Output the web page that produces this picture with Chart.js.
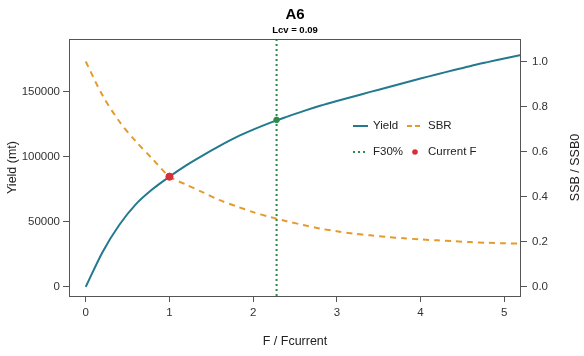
<!DOCTYPE html>
<html>
<head>
<meta charset="utf-8">
<script src="https://cdn.jsdelivr.net/npm/chart.js@4.4.1/dist/chart.umd.min.js"></script>
<style>
  html, body { margin: 0; padding: 0; background: #fff; }
  canvas { display: block; }
</style>
</head>
<body>
<canvas id="chart" width="584" height="356"></canvas>
<script>
// values
const fValues = [0, 0.2, 0.4, 0.6, 0.8, 1.0, 1.2, 1.4, 1.6, 1.8, 2.0, 2.2, 2.4, 2.6,
  2.8, 3.0, 3.2, 3.4, 3.6, 3.8, 4.0, 4.2, 4.4, 4.6, 4.8, 5.0, 5.2];
const yieldValues = [0, 26700, 47600, 63700, 75300, 84800, 93500, 101200, 108500, 115200,
  121000, 126200, 130800, 135200, 139300, 143000, 146500, 150000, 153400, 156900,
  160300, 163600, 166800, 170000, 172900, 175700, 178400];
const sbrValues = [1.0, 0.85, 0.735, 0.645, 0.567, 0.49, 0.454, 0.42, 0.385, 0.358,
  0.332, 0.311, 0.292, 0.275, 0.259, 0.247, 0.237, 0.229, 0.222, 0.216, 0.211,
  0.207, 0.203, 0.199, 0.196, 0.194, 0.192];
const f30 = 2.28;
const f30Yield = 128500;
const currentF = 1.0;
const currentYield = 84800;

const xTicks = [0, 1, 2, 3, 4, 5];
const yieldTicks = [0, 50000, 100000, 150000];
const sbrTicks = [0, 0.2, 0.4, 0.6, 0.8, 1.0];

const xRange = [-0.2, 5.2];
const yieldRange = [-7000, 190700];
const sbrRange = [-0.04, 1.10];

const FONT = '"Liberation Sans", Arial, Helvetica, sans-serif';
const TEAL = "#23798e";
const ORANGE = "#e59b2c";
const GREEN = "#2b8a46";
const RED = "#d7303a";
const AXIS = "#555";

function setTicks(list) {
  return scale => { scale.ticks = list.map(v => ({ value: v })); };
}

const decorations = {
  id: "decorations",
  afterDraw(chart) {
    const { ctx, chartArea: a } = chart;
    ctx.save();
    ctx.strokeStyle = AXIS;
    ctx.lineWidth = 1;
    ctx.strokeRect(a.left + 0.5, a.top + 0.5, a.right - a.left - 1, a.bottom - a.top);

    ctx.fillStyle = "#000";
    ctx.textAlign = "center";
    ctx.textBaseline = "middle";
    const cx = (a.left + a.right) / 2;
    ctx.font = "bold 15px " + FONT;
    ctx.fillText("A6", cx, 15);
    ctx.font = "bold 9.5px " + FONT;
    ctx.fillText("Lcv = 0.09", cx, 30.5);

    ctx.fillStyle = "#222";
    ctx.font = "12.5px " + FONT;
    ctx.fillText("F / Fcurrent", cx, 342);
    const cy = (a.top + a.bottom) / 2;
    ctx.save();
    ctx.translate(13, cy);
    ctx.rotate(-Math.PI / 2);
    ctx.fillText("Yield (mt)", 0, 0);
    ctx.restore();
    ctx.save();
    ctx.translate(576, cy);
    ctx.rotate(-Math.PI / 2);
    ctx.fillText("SSB / SSB0", 0, 0);
    ctx.restore();

    // legend
    ctx.font = "11.5px " + FONT;
    ctx.textAlign = "left";
    ctx.lineWidth = 2;
    ctx.strokeStyle = TEAL;
    ctx.beginPath(); ctx.moveTo(353, 126); ctx.lineTo(368, 126); ctx.stroke();
    ctx.fillText("Yield", 373, 126);
    ctx.strokeStyle = ORANGE;
    ctx.setLineDash([5, 3]);
    ctx.beginPath(); ctx.moveTo(407, 126); ctx.lineTo(423, 126); ctx.stroke();
    ctx.fillText("SBR", 428, 126);
    ctx.strokeStyle = GREEN;
    ctx.setLineDash([2, 3]);
    ctx.beginPath(); ctx.moveTo(353, 152); ctx.lineTo(368, 152); ctx.stroke();
    ctx.setLineDash([]);
    ctx.fillText("F30%", 373, 152);
    ctx.fillStyle = RED;
    ctx.beginPath(); ctx.arc(415, 152, 2.8, 0, Math.PI * 2); ctx.fill();
    ctx.fillStyle = "#222";
    ctx.fillText("Current F", 428, 152);
    ctx.restore();
  }
};

const tickFont = { family: FONT, size: 11.5 };

new Chart(document.getElementById("chart"), {
  type: "line",
  data: {
    datasets: [
      {
        label: "Yield",
        data: fValues.map((f, i) => ({ x: f, y: yieldValues[i] })),
        borderColor: TEAL,
        borderWidth: 2,
        pointRadius: 0,
        tension: 0.3,
        order: 4,
        yAxisID: "y"
      },
      {
        label: "SBR",
        data: fValues.map((f, i) => ({ x: f, y: sbrValues[i] })),
        borderColor: ORANGE,
        borderWidth: 2,
        borderDash: [6, 5],
        pointRadius: 0,
        tension: 0.3,
        order: 3,
        yAxisID: "y1"
      },
      {
        label: "F30%",
        data: [{ x: f30, y: yieldRange[0] }, { x: f30, y: yieldRange[1] }],
        borderColor: GREEN,
        borderWidth: 2,
        borderDash: [2, 3],
        pointRadius: 0,
        order: 2,
        yAxisID: "y"
      },
      {
        label: "F30% point",
        data: [{ x: f30, y: f30Yield }],
        showLine: false,
        pointRadius: 2.8,
        pointBackgroundColor: GREEN,
        pointBorderColor: GREEN,
        order: 1,
        yAxisID: "y"
      },
      {
        label: "Current F",
        data: [{ x: currentF, y: currentYield }],
        showLine: false,
        pointRadius: 3.6,
        pointBackgroundColor: RED,
        pointBorderColor: RED,
        order: 0,
        yAxisID: "y"
      }
    ]
  },
  options: {
    responsive: false,
    animation: false,
    devicePixelRatio: 1,
    layout: { padding: { top: 39, left: 0, right: 0, bottom: 0 } },
    plugins: { legend: { display: false }, tooltip: { enabled: false }, title: { display: false } },
    scales: {
      x: {
        type: "linear",
        min: xRange[0],
        max: xRange[1],
        afterBuildTicks: setTicks(xTicks),
        afterFit: s => { s.height = 60; },
        border: { display: false },
        grid: { drawOnChartArea: false, drawTicks: true, tickLength: 6, color: AXIS },
        ticks: { font: tickFont, color: "#333", padding: 4, callback: v => String(v), maxRotation: 0 }
      },
      y: {
        position: "left",
        min: yieldRange[0],
        max: yieldRange[1],
        afterBuildTicks: setTicks(yieldTicks),
        afterFit: s => { s.width = 69; },
        border: { display: false },
        grid: { drawOnChartArea: false, drawTicks: true, tickLength: 6, color: AXIS },
        ticks: { font: tickFont, color: "#333", padding: 3, callback: v => String(v) }
      },
      y1: {
        position: "right",
        min: sbrRange[0],
        max: sbrRange[1],
        afterBuildTicks: setTicks(sbrTicks),
        afterFit: s => { s.width = 63; },
        border: { display: false },
        grid: { drawOnChartArea: false, drawTicks: true, tickLength: 6, color: AXIS },
        ticks: { font: tickFont, color: "#333", padding: 5, callback: v => Number(v).toFixed(1) }
      }
    }
  },
  plugins: [decorations]
});
</script>
</body>
</html>
